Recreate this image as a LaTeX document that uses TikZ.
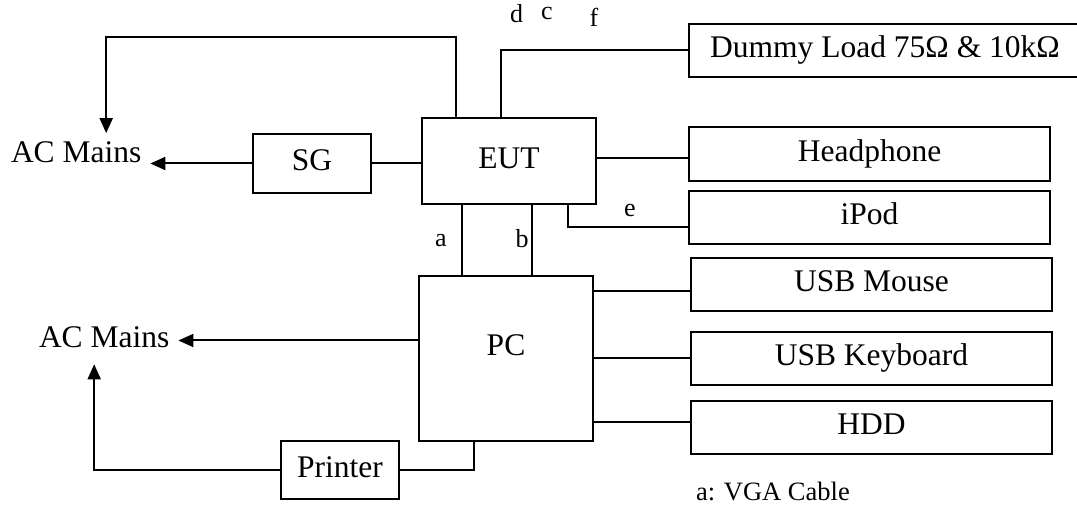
\documentclass[tikz,border=0pt]{standalone}
\usepackage{fontspec}
\setmainfont{Liberation Serif}
\usetikzlibrary{arrows.meta}
\begin{document}
\begin{tikzpicture}[x=1pt, y=1pt, line width=2pt,
  unit/.style={draw, inner sep=0pt, font=\fontsize{31.5}{36}\selectfont, text height=21.4pt, text depth=6.9pt},
  mains/.style={inner sep=8pt, font=\fontsize{31.5}{36}\selectfont},
  port/.style={inner sep=0pt, font=\fontsize{26}{30}\selectfont},
  arr/.style={-{Triangle[length=15pt, width=13pt]}}]
\useasboundingbox (0,0) rectangle (1077,504);
\node[unit, minimum width=174pt, minimum height=86pt] (eut) at (509,343) {EUT};
\node[unit, minimum width=118pt, minimum height=59pt] (sg) at (312,340.5) {SG};
\node[unit, minimum width=174pt, minimum height=165pt] (pc) at (506,145.5) {\raisebox{10pt}{PC}};
\node[unit, minimum width=118pt, minimum height=58pt] (printer) at (340,34) {Printer};
\node[unit, minimum width=392pt, minimum height=53pt] (dummy) at (885,453.5) {Dummy Load 75Ω \& 10kΩ};
\node[unit, minimum width=361pt, minimum height=54pt] (headphone) at (869.5,350) {Headphone};
\node[unit, minimum width=361pt, minimum height=53pt] (ipod) at (869.5,286.5) {iPod};
\node[unit, minimum width=361pt, minimum height=53pt] (mouse) at (871.5,219.5) {USB Mouse};
\node[unit, minimum width=361pt, minimum height=53pt] (keyboard) at (871.5,145.5) {USB Keyboard};
\node[unit, minimum width=361pt, minimum height=53pt] (hdd) at (871.5,76.5) {HDD};
\node[mains, anchor=base west] (acA) at (2,341) {AC Mains};
\node[mains, anchor=base west] (acB) at (30,157) {AC Mains};
\draw[arr] ([xshift=-53pt]eut.north) -- ++(0,80) -| ([xshift=30pt]acA.north);
\draw[arr] (sg.west) -- (sg.west -| acA.east);
\draw (sg.east) -- (sg.east -| eut.west);
\draw ([xshift=-8pt]eut.north) |- (dummy.west);
\draw ([yshift=-4pt]headphone.west -| eut.east) -- ([yshift=-4pt]headphone.west);
\draw ([xshift=59pt]eut.south) |- ([yshift=-10pt]ipod.west);
\draw ([xshift=-47pt]eut.south) -- ([xshift=-47pt]eut.south |- pc.north);
\draw ([xshift=23pt]eut.south) -- ([xshift=23pt]eut.south |- pc.north);
\draw[arr] ([yshift=18pt]pc.west) -- ([yshift=18pt]pc.west -| acB.east);
\draw ([yshift=-7pt]mouse.west -| pc.east) -- ([yshift=-7pt]mouse.west);
\draw (keyboard.west -| pc.east) -- (keyboard.west);
\draw ([yshift=6pt]hdd.west -| pc.east) -- ([yshift=6pt]hdd.west);
\draw ([xshift=-32pt]pc.south) |- (printer.east);
\draw[arr] (printer.west) -| ([xshift=-10pt, yshift=-8pt]acB.south);
\node[port, anchor=base] (la) at (441,257) {a};
\node[port, anchor=base] (lb) at (522,256) {b};
\node[port, anchor=base] (lc) at (547,484) {c};
\node[port, anchor=base] (ld) at (516.5,481) {d};
\node[port, anchor=base] (le) at (630,287) {e};
\node[port, anchor=base] (lf) at (594,477) {f};
\node[inner sep=0pt, font=\fontsize{26.5}{30}\selectfont, anchor=base west] (legend) at (695,4) {a: VGA Cable};
\end{tikzpicture}
\end{document}
